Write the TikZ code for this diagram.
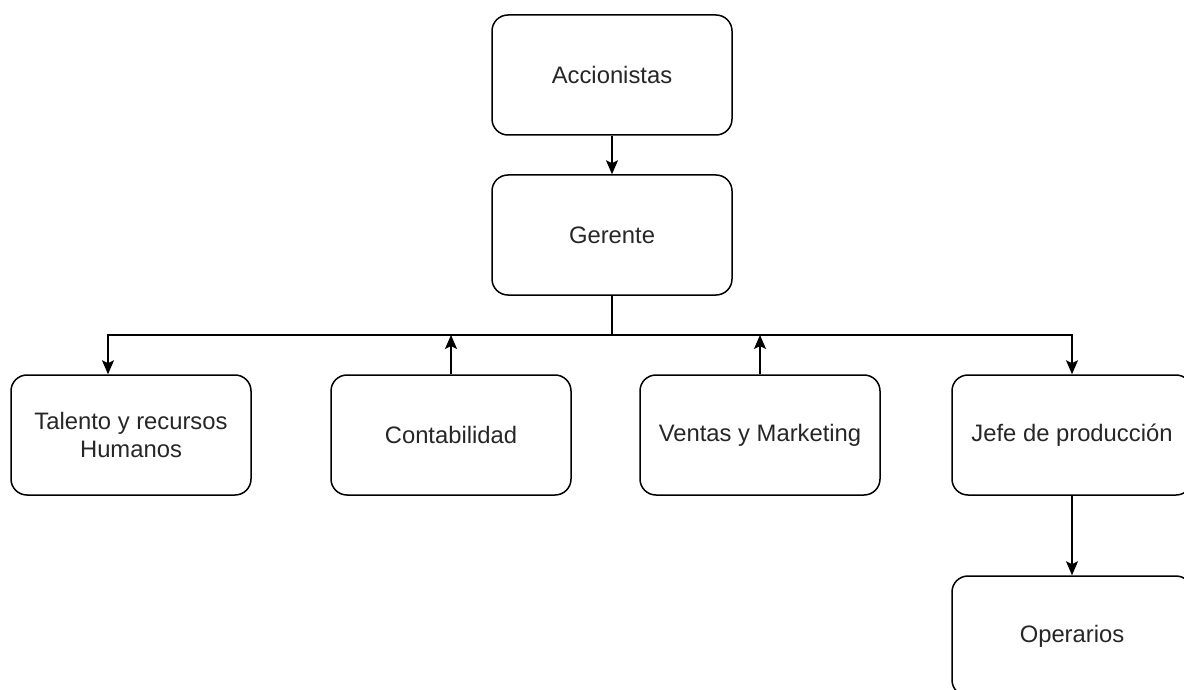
\documentclass[tikz,border=0pt]{standalone}
\usepackage{fontspec}
\setmainfont{Liberation Sans}
\usetikzlibrary{arrows.meta}
\begin{document}
\begin{tikzpicture}[x=1pt,y=-1pt,
  box/.style={draw, rounded corners=16pt, minimum width=240pt, minimum height=120pt,
    line width=1.5pt, align=center, text=black!85, font=\fontsize{23.8}{28}\selectfont},
  conn/.style={line width=1.5pt},
  arr/.style={conn, -{Stealth[width=12pt,length=14pt,inset=3pt]}}]
\useasboundingbox (0,0) rectangle (1184,690);
\node[box] (acc) at (612,75) {Accionistas};
\node[box] (ger) at (612,235) {Gerente};
\node[box] (tal) at (131,435) {Talento y recursos\\Humanos};
\node[box] (con) at (451,435) {Contabilidad};
\node[box] (ven) at (760,435) {Ventas y Marketing};
\node[box] (jef) at (1072,435) {Jefe de producción};
\node[box] (ope) at (1072,636) {Operarios};
\coordinate (bus) at (612,335);
\coordinate (tl) at (108,335);
\draw[arr] (acc) -- (ger);
\draw[conn] (ger.south) -- (bus);
\draw[arr] (bus) -- (tl) -- (tl |- tal.north);
\draw[arr] (con.north) -- (con.north |- bus);
\draw[arr] (ven.north) -- (ven.north |- bus);
\draw[arr] (bus) -| (jef.north);
\draw[arr] (jef) -- (ope);
\end{tikzpicture}
\end{document}
